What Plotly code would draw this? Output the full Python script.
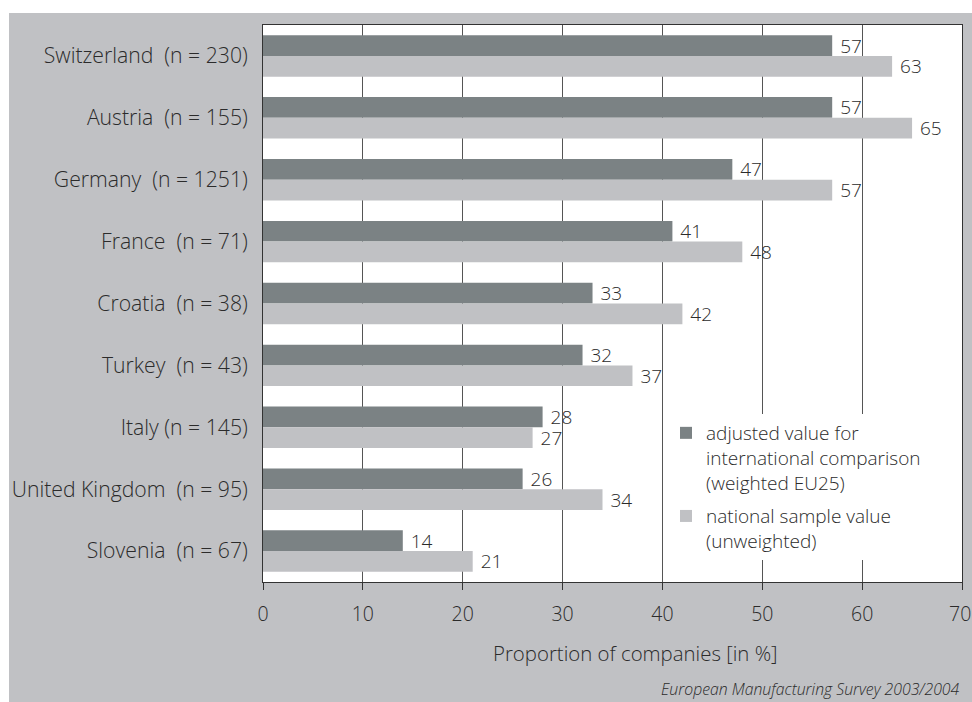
import plotly.graph_objects as go

# Survey data: share of companies per country
countries = [
    "Switzerland\u00a0 (n = 230)",
    "Austria\u00a0 (n = 155)",
    "Germany\u00a0 (n = 1251)",
    "France\u00a0 (n = 71)",
    "Croatia\u00a0 (n = 38)",
    "Turkey\u00a0 (n = 43)",
    "Italy (n = 145)",
    "United Kingdom\u00a0 (n = 95)",
    "Slovenia\u00a0 (n = 67)",
]
adjusted = [57, 57, 47, 41, 33, 32, 28, 26, 14]
national = [63, 65, 57, 48, 42, 37, 27, 34, 21]
x_ticks = [0, 10, 20, 30, 40, 50, 60, 70]

DARK = "#7b8284"
LIGHT = "#c0c1c4"
TEXT = "#2b2b2b"
FONT = "Open Sans"
WGT = 300


def f(size):
    return dict(family=FONT, size=size, color=TEXT, weight=WGT)


fig = go.Figure()
fig.add_trace(go.Bar(
    y=countries, x=adjusted, orientation="h",
    name="adjusted value for<br>international comparison<br>(weighted EU25)",
    legendgroup="adj",
    marker=dict(color=DARK, line=dict(width=0)),
    texttemplate="\u00a0%{x}", textposition="outside",
    textfont=f(19), constraintext="none", cliponaxis=False,
))
fig.add_trace(go.Bar(
    y=countries, x=national, orientation="h",
    name="national sample value<br>(unweighted)",
    legendgroup="nat",
    marker=dict(color=LIGHT, line=dict(width=0)),
    texttemplate="\u00a0%{x}", textposition="outside",
    textfont=f(19), constraintext="none", cliponaxis=False,
))

W, H = 972, 702
L, R, T, B = 263, 10, 25, 120
pw, ph = W - L - R, H - T - B


def px(xpix):
    return (xpix - L) / pw


def py(ypix):
    return (H - B - ypix) / ph


# the last tick sits on the right border; its label is placed by hand
# so that it stays inside the page
tick_text = [str(v) for v in x_ticks[:-1]] + [""]

fig.update_layout(
    width=W, height=H,
    margin=dict(l=L, r=R, t=T, b=B),
    paper_bgcolor=LIGHT,
    plot_bgcolor="white",
    font=f(19),
    barmode="group", bargap=0.33, bargroupgap=0,
    showlegend=True,
    legend=dict(
        x=px(666), y=py(414), xanchor="left", yanchor="top",
        bgcolor="white", borderwidth=0,
        font=f(19), valign="top", tracegroupgap=6,
    ),
    xaxis=dict(
        range=[0, 70], tickvals=x_ticks, ticktext=tick_text,
        tickfont=f(19.5),
        showgrid=True, gridcolor="#555555", gridwidth=1,
        showline=True, linecolor="#333333", linewidth=1, mirror=True,
        ticks="outside", ticklen=7, tickcolor="#333333",
        zeroline=False, ticklabelstandoff=8,
    ),
    yaxis=dict(
        autorange="reversed", tickfont=f(21.2),
        showline=True, linecolor="#333333", linewidth=1, mirror=True,
        ticks="", showgrid=False, ticklabelstandoff=10,
    ),
    shapes=[
        # white page edge at top and left of the grey panel
        dict(type="rect", xref="paper", yref="paper",
             x0=px(0), x1=px(W), y0=py(13), y1=py(0),
             fillcolor="white", line=dict(width=0), layer="above"),
        dict(type="rect", xref="paper", yref="paper",
             x0=px(0), x1=px(9), y0=py(H), y1=py(0),
             fillcolor="white", line=dict(width=0), layer="above"),
    ],
    annotations=[
        dict(text=str(x_ticks[-1]), xref="x", yref="paper",
             x=x_ticks[-1], y=py(613), xanchor="center", yanchor="middle",
             xshift=-2, showarrow=False, font=f(19.5)),
        dict(text="Proportion of companies [in %]", xref="paper", yref="paper",
             x=px(635), y=py(653), xanchor="center", yanchor="middle",
             showarrow=False, font=f(20.4)),
        dict(text="<i>European Manufacturing Survey 2003/2004</i>",
             xref="paper", yref="paper",
             x=px(962), y=py(702), xanchor="right", yanchor="bottom",
             showarrow=False, font=f(15.8)),
    ],
)

fig.write_html("out.html")
